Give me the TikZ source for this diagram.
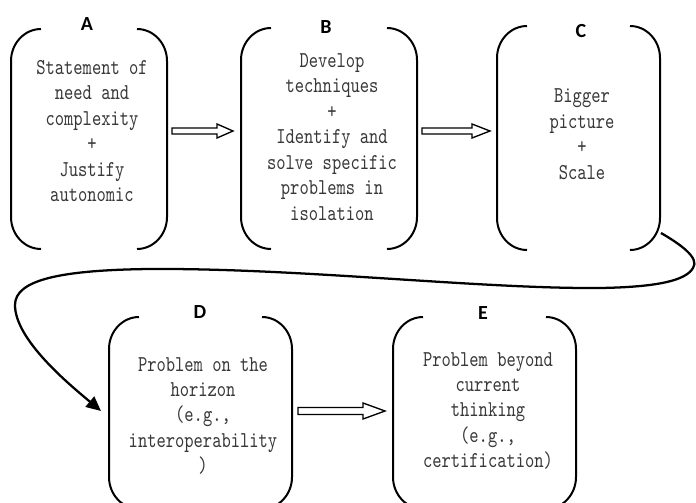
\documentclass[tikz,border=0pt]{standalone}
\usepackage{fontspec}
\newfontfamily\boxfont[FakeStretch=0.78,Extension=.otf]{lmmono10-regular}
\newfontfamily\lblfont{Carlito}
\usetikzlibrary{calc,arrows.meta}
\newcommand{\drawbrackets}[1]{%
  \draw[brk] ($(#1.north west)+(30,0)$) .. controls +(-16.5,0) and +(0,-17.6) .. ($(#1.north west)+(0,32)$)
    -- ($(#1.south west)+(0,-32)$) .. controls +(0,17.6) and +(-16.5,0) .. ($(#1.south west)+(30,0)$);
  \draw[brk] ($(#1.north east)+(-30,0)$) .. controls +(16.5,0) and +(0,-17.6) .. ($(#1.north east)+(0,32)$)
    -- ($(#1.south east)+(0,-32)$) .. controls +(0,17.6) and +(16.5,0) .. ($(#1.south east)+(-30,0)$);
}
\begin{document}
\begin{tikzpicture}[x=0.75pt,y=-0.75pt,
  area/.style={draw=none,inner sep=0pt,outer sep=0pt},
  brk/.style={draw=black,line width=1.5pt},
  boxtext/.style={align=center,inner sep=0pt,text=black!78,
    font=\boxfont\fontsize{17pt}{19.1pt}\selectfont},
  lbl/.style={inner sep=0pt,font=\lblfont\bfseries\fontsize{15pt}{17pt}\selectfont},
  harrow/.style={draw=black,line width=1pt,fill=white,line join=miter},
  flow/.style={draw=black,line width=1.7pt,-{Triangle[length=11pt,width=10pt]}}]
\useasboundingbox (0,0) rectangle (696,503);
\clip (0,0) rectangle (696,503);
\fill[white] (0,0) rectangle (696,503);

% box areas
\node[area,minimum width=117pt,minimum height=165pt] (A) at (89,139) {};
\node[area,minimum width=132pt,minimum height=165.75pt] (B) at (329,138.5) {};
\node[area,minimum width=122.25pt,minimum height=168pt] (C) at (578.5,138) {};
\node[area,minimum width=137.25pt,minimum height=144pt] (D) at (200.5,413) {};
\node[area,minimum width=137.25pt,minimum height=144pt] (E) at (484.5,413) {};

\drawbrackets{A}
\drawbrackets{B}
\drawbrackets{C}
\drawbrackets{D}
\drawbrackets{E}

% labels
\node[lbl] (LA) at (87,24) {A};
\node[lbl] (LB) at (326,27.5) {B};
\node[lbl] (LC) at (581,31) {C};
\node[lbl] (LD) at (200,312) {D};
\node[lbl] (LE) at (483,313) {E};

% texts
\node[boxtext] (TA) at (92,131) {Statement of\\need and\\complexity\\+\\Justify\\autonomic};
\node[boxtext] (TB) at (332,137) {Develop\\techniques\\+\\Identify and\\solve specific\\problems in\\isolation};
\node[boxtext] (TC) at (582,134) {Bigger\\picture\\+\\Scale};
\node[boxtext] (TD) at (203,416) {Problem on the\\horizon\\(e.g.,\\interoperability\\)};
\node[boxtext] (TE) at (488,411) {Problem beyond\\current\\thinking\\(e.g.,\\certification)};

% hollow arrows
\draw[harrow] let \p1=($(A.east)+(5,-8)$), \p2=($(B.west)+(-8,-7.5)$) in
  (\x1,\y1+2.25pt) -- (\x2-12pt,\y1+2.25pt) -- (\x2-12pt,\y1+5.25pt) -- (\x2,\y1)
  -- (\x2-12pt,\y1-5.25pt) -- (\x2-12pt,\y1-2.25pt) -- (\x1,\y1-2.25pt) -- cycle;
\draw[harrow] let \p1=($(B.east)+(5,-7.5)$), \p2=($(C.west)+(-7,-7)$) in
  (\x1,\y1+2.25pt) -- (\x2-13.5pt,\y1+2.25pt) -- (\x2-13.5pt,\y1+5.25pt) -- (\x2,\y1)
  -- (\x2-13.5pt,\y1-5.25pt) -- (\x2-13.5pt,\y1-2.25pt) -- (\x1,\y1-2.25pt) -- cycle;
\draw[harrow] let \p1=($(D.east)+(6,-2)$), \p2=($(E.west)+(-8,-2)$) in
  (\x1,\y1+2.6pt) -- (\x2-16.5pt,\y1+2.6pt) -- (\x2-16.5pt,\y1+6pt) -- (\x2,\y1)
  -- (\x2-16.5pt,\y1-6pt) -- (\x2-16.5pt,\y1-2.6pt) -- (\x1,\y1-2.6pt) -- cycle;

% curved connector C -> D
\draw[flow] ($(C.south east)+(1,-17)$) .. controls (680,244) and (700,258) .. (693,268)
  .. controls (686,280) and (660,287) .. (600,288)
  .. controls (480,289) and (300,268) .. (150,269)
  .. controls (60,270) and (15,280) .. (15,305)
  .. controls (15,340) and (70,385) .. ($(D.west)+(-8,-2)$);
\end{tikzpicture}
\end{document}
